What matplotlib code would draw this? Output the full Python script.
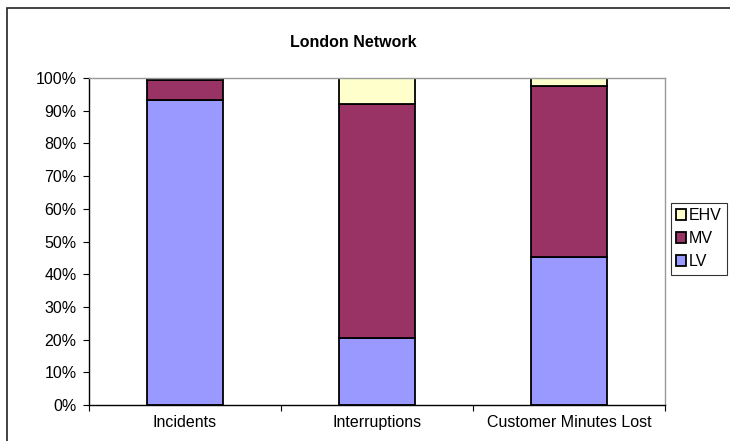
import matplotlib.pyplot as plt
from matplotlib.patches import Rectangle
from matplotlib.ticker import FixedLocator, PercentFormatter

plt.rcParams['font.family'] = ['Liberation Sans', 'DejaVu Sans']

categories = ["Incidents", "Interruptions", "Customer Minutes Lost"]
lv = [93.3, 20.5, 45.3]
mv = [6.2, 71.5, 52.3]
ehv = [0.5, 8.0, 2.4]

fig = plt.figure(figsize=(7.3, 4.41), dpi=100)
# outer chart border, runs off the right and bottom edges like the original
fig.patches.append(Rectangle((0.0096, -0.05), 1.1, 1.032, transform=fig.transFigure,
                             fill=False, edgecolor='#222222', linewidth=1.2))
ax = fig.add_axes([0.1219, 0.0816, 0.789, 0.7415])

x = range(len(categories))
bottom2 = [a + b for a, b in zip(lv, mv)]
ax.bar(x, lv, width=0.4, color='#9999FF', edgecolor='black', linewidth=1.3, label='LV')
ax.bar(x, mv, width=0.4, bottom=lv, color='#993366', edgecolor='black', linewidth=1.3, label='MV')
ax.bar(x, ehv, width=0.4, bottom=bottom2, color='#FFFFCC', edgecolor='black', linewidth=1.3, label='EHV')

ax.set_xlim(-0.5, len(categories) - 0.5)
ax.set_ylim(0, 100)
ax.set_yticks(range(0, 101, 10))
ax.yaxis.set_major_formatter(PercentFormatter(decimals=0))
ax.set_xticks(list(x))
ax.set_xticklabels(categories)
ax.xaxis.set_minor_locator(FixedLocator([-0.5, 0.5, 1.5, 2.5]))
ax.tick_params(axis='x', which='major', length=0, pad=7, labelsize=11.5)
ax.tick_params(axis='x', which='minor', length=4, direction='out', width=0.8)
ax.tick_params(axis='y', length=4, direction='out', width=0.8, labelsize=11.5, pad=5)

ax.spines['left'].set_color('black')
ax.spines['bottom'].set_color('black')
ax.spines['top'].set_color('#999999')
ax.spines['right'].set_color('#999999')
for s in ax.spines.values():
    s.set_linewidth(1)

fig.text(0.4836, 0.903, "London Network", ha='center', va='center', fontsize=11.5, fontweight='bold')

handles, labels = ax.get_legend_handles_labels()
leg = fig.legend(handles[::-1], labels[::-1], loc='center left', bbox_to_anchor=(0.919, 0.459),
                 fontsize=11.5, frameon=True, fancybox=False, handlelength=0.6, handleheight=0.6,
                 handletextpad=0.15, borderpad=0.35, labelspacing=0.5, borderaxespad=0)
leg.get_frame().set_edgecolor('black')
leg.get_frame().set_linewidth(0.8)

plt.savefig("out.png", dpi=100)
